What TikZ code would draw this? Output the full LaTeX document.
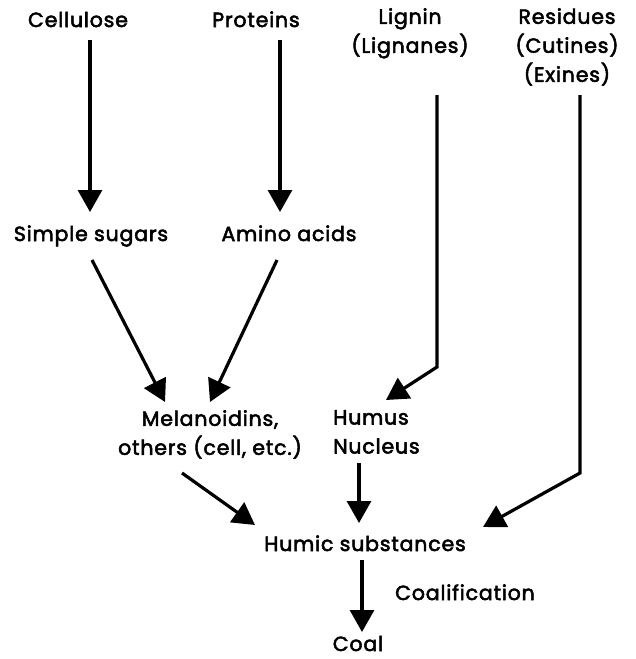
\documentclass[tikz,border=0pt]{standalone}
\usepackage{fontspec}
\setmainfont{Poppins}
\newfontfamily\lblfont{Poppins}[FakeBold=2.6,LetterSpace=4]
\usetikzlibrary{arrows.meta,calc}
\begin{document}
\begin{tikzpicture}[x=1pt,y=-1pt,
  lbl/.style={inner sep=0pt,font=\lblfont\fontsize{20.5}{29}\selectfont,align=center},
  arr/.style={line width=3.2pt,-{Triangle[width=24pt,length=22pt]}}]
\useasboundingbox[fill=white] (0,0) rectangle (636,659);

% sources
\node[lbl,anchor=base] (cell) at (78,27) {Cellulose};
\node[lbl,anchor=base] (prot) at (256,27) {Proteins};
\node[lbl,anchor=north] (lign) at (410,8) {Lignin\\(Lignanes)};
\node[lbl,anchor=north] (resi) at (567,8) {Residues\\(Cutines)\\(Exines)};

% intermediates
\node[lbl,anchor=base] (sug) at (91,241) {Simple sugars};
\node[lbl,anchor=base] (amino) at (289,241) {Amino acids};
\node[lbl,anchor=north] (mela) at (210,410) {Melanoidins,\\others (cell, etc.)};
\node[lbl,anchor=north west,align=left] (humus) at (333,410) {Humus\\Nucleus};

% products
\node[lbl,anchor=base] (humic) at (365,551) {Humic substances};
\node[lbl,anchor=base west] (coalif) at (395,600) {Coalification};
\node[lbl,anchor=base] (coal) at (358,651) {Coal};

% bend points of the two long routes
\coordinate (lbend) at ($(lign.north)+(27,359)$);
\coordinate (rbend) at ($(resi.north)+(13,465)$);

% arrows
\draw[arr] ($(cell.base)+(12,13)$) -- ($(sug.base)+(-1,-29)$);
\draw[arr] ($(prot.base)+(24,13)$) -- ($(amino.base)+(-9,-29)$);
\draw[arr] ($(lign.north)+(27,87)$) -- (lbend) -- ($(humus.north west)+(53,-10)$);
\draw[arr] ($(resi.north)+(13,87)$) -- (rbend) -- ($(humic.base)+(118,-24)$);
\draw[arr] ($(sug.base)+(1,19)$) -- ($(mela.north)+(-45,-8)$);
\draw[arr] ($(amino.base)+(-12,19)$) -- ($(mela.north)+(0,-8)$);
\draw[arr] ($(mela.north)+(-28,63)$) -- ($(humic.base)+(-110,-26)$);
\draw[arr] ($(humus.north west)+(26,53)$) -- ($(humic.base)+(-6,-28)$);
\draw[arr] ($(humic.base)+(-3,9)$) -- ($(coal.base)+(4,-19)$);
\end{tikzpicture}
\end{document}
